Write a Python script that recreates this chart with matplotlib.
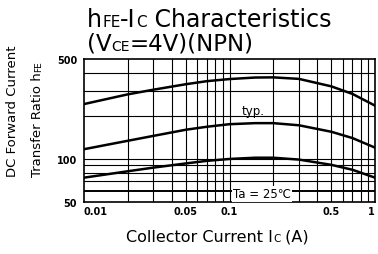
import matplotlib
matplotlib.use("Agg")
import matplotlib.pyplot as plt

plt.rcParams['font.family'] = ['DejaVu Sans']

# ---- data ----
ic = [0.01, 0.02, 0.03, 0.05, 0.07, 0.1, 0.15, 0.2, 0.3, 0.5, 0.7, 1.0]
hfe_max = [242, 283, 305, 333, 350, 362, 371, 372, 363, 322, 285, 236]
hfe_typ = [117, 134, 145, 160, 168, 175, 178, 178, 172, 155, 140, 120]
hfe_min = [74, 82, 87, 93, 97, 100, 102, 102, 99, 91, 84, 74]

x_ticks = [0.01, 0.05, 0.1, 0.5, 1]
x_ticklabels = ["0.01", "0.05", "0.1", "0.5", "1"]
y_ticks = [50, 100, 500]
y_ticklabels = ["50", "100", "500"]
x_grid = [0.02, 0.03, 0.04, 0.05, 0.06, 0.07, 0.08, 0.09, 0.1,
          0.2, 0.3, 0.4, 0.5, 0.6, 0.7, 0.8, 0.9]
y_grid = [60, 70, 80, 90, 100, 200, 300, 400]

W, H = 378, 255
fig = plt.figure(figsize=(W / 100, H / 100), dpi=100)
L, R, T, B = 84, 375, 60, 203
ax = fig.add_axes([L / W, 1 - B / H, (R - L) / W, (B - T) / H])
ax.set_xscale('log')
ax.set_yscale('log')
ax.set_xlim(0.01, 1)
ax.set_ylim(50, 500)

for g in x_grid:
    ax.axvline(g, color='black', lw=0.8, zorder=1)
for g in y_grid:
    ax.axhline(g, color='black', lw=1.4 if g == 60 else 0.8, zorder=1)

for s in ax.spines.values():
    s.set_linewidth(1.2)

for ys in (hfe_max, hfe_typ, hfe_min):
    ax.plot(ic, ys, color='black', lw=1.8, zorder=3)

ax.set_xticks(x_ticks)
ax.set_xticklabels(x_ticklabels)
ax.set_yticks(y_ticks)
ax.set_yticklabels(y_ticklabels)
ax.minorticks_off()
ax.tick_params(axis='both', length=0, labelsize=7)
ax.tick_params(axis='x', pad=3)
ax.tick_params(axis='y', pad=5)
for lab in ax.get_xticklabels() + ax.get_yticklabels():
    lab.set_fontweight('bold')
xl = ax.get_xticklabels()
xl[0].set_horizontalalignment('left')
xl[-1].set_horizontalalignment('right')

ax.text(0.122, 206, "typ.", fontsize=8.5, ha='left', va='baseline', zorder=4)
ax.text(0.106, 57, "Ta = 25\u2103", fontsize=8.5, ha='left', va='center', zorder=4,
        bbox=dict(boxstyle='square,pad=0.1', fc='white', ec='none'))

fig.canvas.draw()
rend = fig.canvas.get_renderer()


def run(pieces, x0, y0, big, small, rot=0):
    """lay pieces along baseline starting at pixel (x0, y0 from top)."""
    pos = x0 if rot == 0 else y0
    for txt, is_small in pieces:
        fs = small if is_small else big
        if rot == 0:
            t = fig.text(pos / W, 1 - y0 / H, txt, fontsize=fs, ha='left', va='baseline')
            bb = t.get_window_extent(rend)
            pos += bb.width
        else:
            t = fig.text(x0 / W, 1 - pos / H, txt, fontsize=fs, ha='left', va='baseline',
                         rotation=90, rotation_mode='anchor')
            bb = t.get_window_extent(rend)
            pos -= bb.height


run([("h", False), ("FE", True), ("-I", False), ("C", True), (" Characteristics", False)],
    87, 27, 17, 11)
run([("(V", False), ("CE", True), ("=4V)(NPN)", False)], 87, 51, 16.5, 10)
run([("Collector Current I", False), ("C", True), (" (A)", False)], 126, 242, 11.5, 7.5)
run([("DC Forward Current", False)], 16, 177, 9.5, 6.5, rot=90)
run([("Transfer Ratio h", False), ("FE", True)], 41, 177, 9.5, 6.5, rot=90)

fig.savefig("out.png", dpi=100)
